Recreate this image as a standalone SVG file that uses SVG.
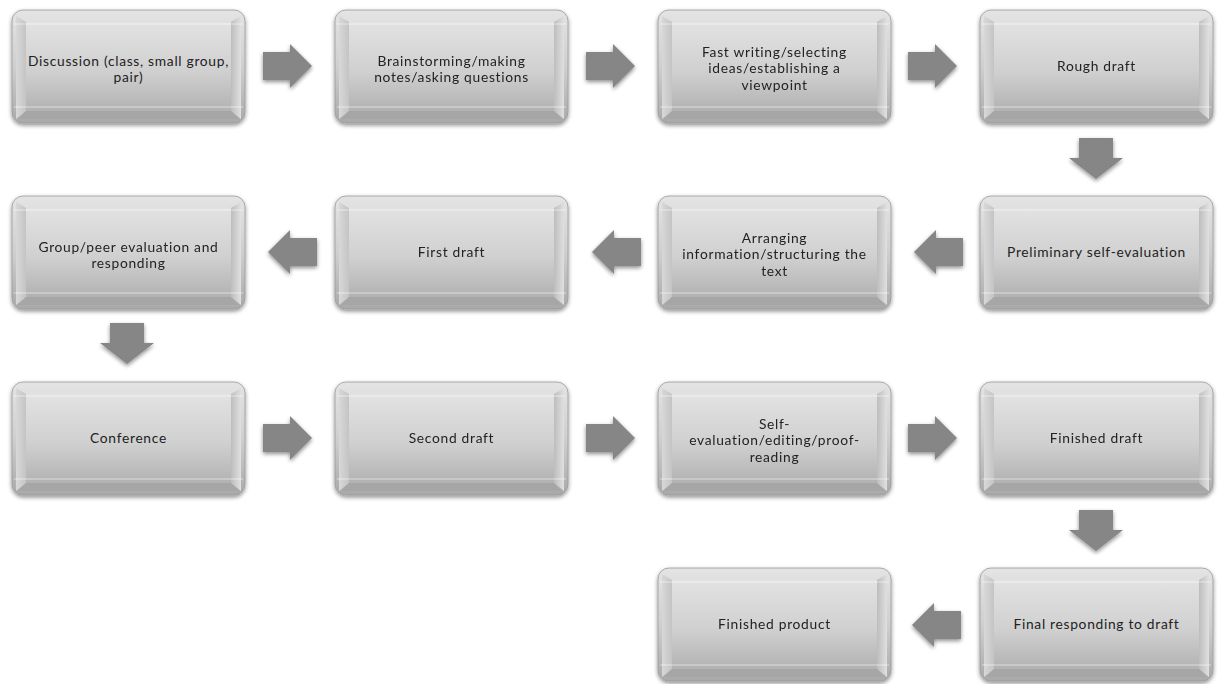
<svg xmlns="http://www.w3.org/2000/svg" width="1219" height="684" viewBox="0 0 1219 684">
<defs>
<linearGradient id="gOuter" x1="0" y1="0" x2="0" y2="1">
<stop offset="0" stop-color="#e4e4e4"/>
<stop offset="0.5" stop-color="#cfcfcf"/>
<stop offset="1" stop-color="#a9a9a9"/>
</linearGradient>
<linearGradient id="gFace" x1="0" y1="0" x2="0" y2="1">
<stop offset="0" stop-color="#e2e2e2"/>
<stop offset="0.55" stop-color="#d0d0d0"/>
<stop offset="1" stop-color="#b2b2b2"/>
</linearGradient>
<linearGradient id="gSideL" x1="0" y1="0" x2="1" y2="0">
<stop offset="0" stop-color="#d8d8d8"/>
<stop offset="1" stop-color="#c4c4c4"/>
</linearGradient>
<linearGradient id="gSideR" x1="0" y1="0" x2="1" y2="0">
<stop offset="0" stop-color="#bdbdbd"/>
<stop offset="1" stop-color="#e0e0e0"/>
</linearGradient>
<filter id="sh" x="-10%" y="-10%" width="120%" height="130%">
<feGaussianBlur in="SourceAlpha" stdDeviation="2"/>
<feOffset dx="0" dy="2" result="b"/>
<feComponentTransfer><feFuncA type="linear" slope="0.45"/></feComponentTransfer>
<feMerge><feMergeNode/><feMergeNode in="SourceGraphic"/></feMerge>
</filter>
<g id="box">
<rect x="0" y="0" width="233" height="113" rx="11" fill="url(#gOuter)" stroke="#9a9a9a" stroke-width="0.8" filter="url(#sh)"/>
<polygon points="4,6 14,12 14,101 4,109" fill="url(#gSideL)"/>
<polygon points="229,6 219,12 219,101 229,109" fill="url(#gSideR)"/>
<polygon points="6,109 14,101 219,101 227,109" fill="#a6a6a6"/>
<rect x="14" y="12" width="205" height="89" fill="url(#gFace)"/>
<line x1="2" y1="14" x2="231" y2="14" stroke="#ffffff" stroke-opacity="0.55" stroke-width="1"/>
<line x1="2" y1="97" x2="231" y2="97" stroke="#ffffff" stroke-opacity="0.55" stroke-width="1"/>
</g>
<path id="arR" d="M0,-14 H27 V-22 L49,0 L27,22 V14 H0 Z"/>
<path id="arL" d="M0,-14 H-27 V-22 L-49,0 L-27,22 V14 H0 Z"/>
<path id="arD" d="M-17,0 V20 H-27 L0,41 L27,20 H17 V0 Z"/>
</defs>
<style>
.t{font-family:Lato,"Open Sans","Liberation Sans",sans-serif;font-size:13.8px;letter-spacing:0.7px;fill:#222222;text-anchor:middle}
.ar{fill:#868686;filter:url(#sh)}
</style>
<g id="connectors" class="ar">
<use href="#arR" x="263" y="66"/>
<use href="#arR" x="586" y="66"/>
<use href="#arR" x="908" y="66"/>
<use href="#arD" x="1096" y="138"/>
<use href="#arL" x="963" y="252"/>
<use href="#arL" x="641" y="252"/>
<use href="#arL" x="317" y="252"/>
<use href="#arD" x="127" y="323"/>
<use href="#arR" x="263" y="438"/>
<use href="#arR" x="586" y="438"/>
<use href="#arR" x="908" y="438"/>
<use href="#arD" x="1096" y="510"/>
<use href="#arL" x="961" y="625"/>
</g>
<g id="n1"><use href="#box" x="12" y="10"/><text class="t" x="128.5" y="65.5">Discussion (class, small group,<tspan x="128.5" dy="16.6">pair)</tspan></text></g>
<g id="n2"><use href="#box" x="335" y="10"/><text class="t" x="451.5" y="65.5">Brainstorming/making<tspan x="451.5" dy="16.6">notes/asking questions</tspan></text></g>
<g id="n3"><use href="#box" x="658" y="10"/><text class="t" x="774.5" y="56.5">Fast writing/selecting<tspan x="774.5" dy="16.6">ideas/establishing a</tspan><tspan x="774.5" dy="16.6">viewpoint</tspan></text></g>
<g id="n4"><use href="#box" x="980" y="10"/><text class="t" x="1096.5" y="71">Rough draft</text></g>
<g id="n5"><use href="#box" x="980" y="196"/><text class="t" x="1096.5" y="257">Preliminary self-evaluation</text></g>
<g id="n6"><use href="#box" x="658" y="196"/><text class="t" x="774.5" y="242.5">Arranging<tspan x="774.5" dy="16.6">information/structuring the</tspan><tspan x="774.5" dy="16.6">text</tspan></text></g>
<g id="n7"><use href="#box" x="335" y="196"/><text class="t" x="451.5" y="257">First draft</text></g>
<g id="n8"><use href="#box" x="12" y="196"/><text class="t" x="128.5" y="251.5">Group/peer evaluation and<tspan x="128.5" dy="16.6">responding</tspan></text></g>
<g id="n9"><use href="#box" x="12" y="382"/><text class="t" x="128.5" y="443">Conference</text></g>
<g id="n10"><use href="#box" x="335" y="382"/><text class="t" x="451.5" y="443">Second draft</text></g>
<g id="n11"><use href="#box" x="658" y="382"/><text class="t" x="774.5" y="428.5">Self-<tspan x="774.5" dy="16.6">evaluation/editing/proof-</tspan><tspan x="774.5" dy="16.6">reading</tspan></text></g>
<g id="n12"><use href="#box" x="980" y="382"/><text class="t" x="1096.5" y="443">Finished draft</text></g>
<g id="n13"><use href="#box" x="980" y="568"/><text class="t" x="1096.5" y="629">Final responding to draft</text></g>
<g id="n14"><use href="#box" x="658" y="568"/><text class="t" x="774.5" y="629">Finished product</text></g>
</svg>
